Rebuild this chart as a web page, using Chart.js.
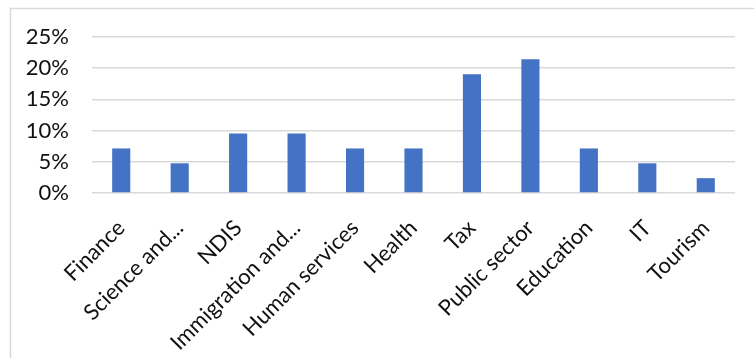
<!DOCTYPE html>
<html>
<head>
<meta charset="utf-8">
<script src="https://cdn.jsdelivr.net/npm/chart.js@4/dist/chart.umd.min.js"></script>
<style>
  html, body { margin: 0; padding: 0; background: #fff; }
  #wrap { width: 754px; height: 358px; position: relative; }
</style>
</head>
<body>
<div id="wrap"><canvas id="c" width="754" height="358"></canvas></div>
<script>
// Share of roles by sector (percent)
const sectors = ['Finance', 'Science and...', 'NDIS', 'Immigration and...', 'Human services',
                 'Health', 'Tax', 'Public sector', 'Education', 'IT', 'Tourism'];
const shares = [7.14, 4.76, 9.52, 9.52, 7.14, 7.14, 19.05, 21.43, 7.14, 4.76, 2.38];
const yMax = 25;
const yStep = 5;

// Thin frame along the top and left edges of the chart box
const framePlugin = {
  id: 'frame',
  beforeDraw(chart) {
    const ctx = chart.ctx;
    ctx.save();
    ctx.strokeStyle = '#d9d9d9';
    ctx.lineWidth = 1.5;
    ctx.beginPath();
    ctx.moveTo(10.5, 358);
    ctx.lineTo(10.5, 8.5);
    ctx.lineTo(754, 8.5);
    ctx.stroke();
    ctx.restore();
  }
};

const font = { family: 'Lato, "Liberation Sans", sans-serif', size: 22 };

new Chart(document.getElementById('c'), {
  type: 'bar',
  data: {
    labels: sectors,
    datasets: [{
      data: shares,
      backgroundColor: '#4472c4',
      borderWidth: 0,
      barPercentage: 0.31,
      categoryPercentage: 1
    }]
  },
  options: {
    responsive: false,
    animation: false,
    devicePixelRatio: 1,
    layout: { padding: { top: 37, right: 19, left: 0, bottom: 0 } },
    plugins: { legend: { display: false }, tooltip: { enabled: false } },
    scales: {
      x: {
        grid: { display: false },
        border: { display: false },
        ticks: {
          color: '#111',
          font: font,
          minRotation: 45,
          maxRotation: 45,
          autoSkip: false,
          padding: 14
        },
        afterFit(scale) { scale.height = 165; }
      },
      y: {
        min: 0,
        max: yMax,
        grid: { color: '#d9d9d9', lineWidth: 1.5, drawTicks: false },
        border: { display: false },
        ticks: {
          stepSize: yStep,
          color: '#111',
          font: font,
          padding: 23,
          callback: v => v + '%'
        },
        afterFit(scale) { scale.width = 92; }
      }
    }
  },
  plugins: [framePlugin]
});
</script>
</body>
</html>
